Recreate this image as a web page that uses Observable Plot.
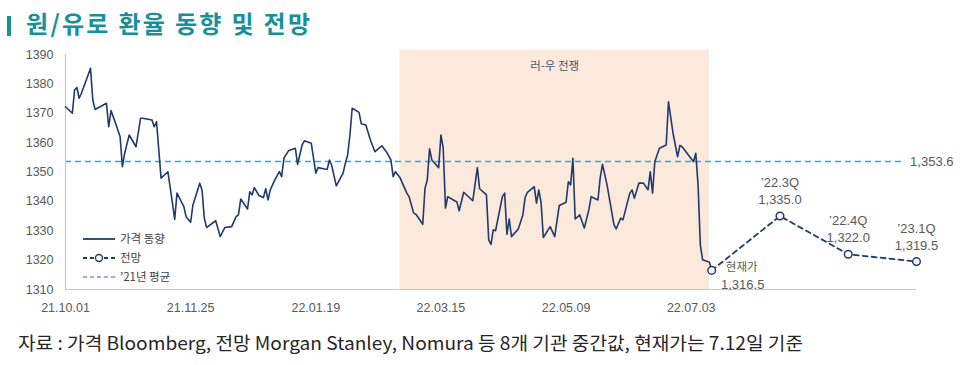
<!DOCTYPE html>
<html><head><meta charset="utf-8">
<script src="https://cdn.jsdelivr.net/npm/d3@7"></script>
<script src="https://cdn.jsdelivr.net/npm/@observablehq/plot@0.6"></script>
<style>
body{margin:0;background:#fff;width:966px;height:365px;overflow:hidden;position:relative;font-family:"Liberation Sans","Noto Sans CJK KR",sans-serif;}
#title{position:absolute;left:7px;top:8px;height:30px;line-height:30px;font-family:"Noto Sans CJK KR",sans-serif;font-weight:700;font-size:24px;letter-spacing:2.3px;color:#16919a;white-space:nowrap;}
#title .bar{display:inline-block;width:4px;height:20px;background:#16919a;vertical-align:-3px;margin-right:15px;}
#chart{position:absolute;left:0;top:40px;}
#overlay{position:absolute;left:0;top:0;pointer-events:none;}
</style></head><body>
<div id="title"><span class="bar"></span>원/유로 환율 동향 및 전망</div>
<div id="chart"></div>
<svg id="overlay" width="966" height="365"></svg>
<script>
// ---- data ----
const priceDates = ["2021-10-01","2021-10-04","2021-10-05","2021-10-06","2021-10-07","2021-10-08","2021-10-12","2021-10-13","2021-10-14","2021-10-19","2021-10-20","2021-10-21","2021-10-23","2021-10-25","2021-10-26","2021-10-27","2021-10-29","2021-11-01","2021-11-03","2021-11-04","2021-11-08","2021-11-09","2021-11-10","2021-11-12","2021-11-15","2021-11-17","2021-11-18","2021-11-19","2021-11-22","2021-11-23","2021-11-25","2021-11-26","2021-11-29","2021-11-30","2021-12-01","2021-12-02","2021-12-06","2021-12-08","2021-12-10","2021-12-13","2021-12-15","2021-12-16","2021-12-17","2021-12-20","2021-12-21","2021-12-22","2021-12-23","2021-12-25","2021-12-27","2021-12-28","2021-12-29","2021-12-30","2022-01-01","2022-01-03","2022-01-04","2022-01-05","2022-01-07","2022-01-10","2022-01-11","2022-01-13","2022-01-14","2022-01-17","2022-01-19","2022-01-20","2022-01-23","2022-01-24","2022-01-25","2022-01-26","2022-01-28","2022-01-31","2022-02-01","2022-02-02","2022-02-03","2022-02-04","2022-02-07","2022-02-08","2022-02-10","2022-02-12","2022-02-14","2022-02-17","2022-02-19","2022-02-21","2022-02-22","2022-02-23","2022-02-25","2022-02-28","2022-03-01","2022-03-03","2022-03-04","2022-03-07","2022-03-08","2022-03-09","2022-03-10","2022-03-11","2022-03-14","2022-03-15","2022-03-16","2022-03-17","2022-03-18","2022-03-21","2022-03-22","2022-03-23","2022-03-25","2022-03-29","2022-03-31","2022-04-01","2022-04-04","2022-04-05","2022-04-06","2022-04-07","2022-04-08","2022-04-11","2022-04-12","2022-04-13","2022-04-14","2022-04-15","2022-04-18","2022-04-20","2022-04-21","2022-04-22","2022-04-25","2022-04-26","2022-04-27","2022-04-28","2022-04-29","2022-05-02","2022-05-04","2022-05-06","2022-05-09","2022-05-10","2022-05-11","2022-05-12","2022-05-13","2022-05-15","2022-05-17","2022-05-19","2022-05-20","2022-05-23","2022-05-24","2022-05-25","2022-05-27","2022-05-30","2022-05-31","2022-06-02","2022-06-03","2022-06-06","2022-06-07","2022-06-08","2022-06-10","2022-06-12","2022-06-14","2022-06-15","2022-06-16","2022-06-17","2022-06-19","2022-06-22","2022-06-23","2022-06-25","2022-06-27","2022-06-28","2022-06-29","2022-07-04","2022-07-05","2022-07-06","2022-07-07","2022-07-08","2022-07-11","2022-07-12"];
const priceValues = [1372.2,1370.0,1377.9,1378.8,1375.1,1376.8,1385.3,1374.5,1371.3,1373.4,1365.4,1370.9,1366.6,1362.0,1351.8,1356.4,1362.6,1358.6,1368.3,1368.3,1367.7,1365.4,1367.1,1347.9,1350.1,1339.4,1333.9,1342.8,1338.2,1334.8,1332.9,1338.8,1346.2,1343.9,1334.3,1331.1,1333.4,1328.0,1331.1,1331.4,1334.8,1335.4,1340.8,1337.4,1343.3,1342.2,1344.7,1342.0,1341.3,1344.3,1340.5,1343.9,1347.3,1350.1,1348.4,1354.7,1357.2,1358.1,1352.6,1359.2,1360.6,1359.8,1349.6,1351.5,1351.0,1350.9,1354.1,1352.2,1345.3,1349.6,1353.0,1355.8,1362.6,1371.7,1370.3,1366.4,1366.0,1360.9,1356.9,1358.9,1356.9,1354.1,1348.4,1350.1,1348.1,1342.8,1341.6,1336.0,1335.6,1332.2,1344.5,1347.3,1357.9,1354.1,1351.5,1362.6,1358.1,1337.7,1341.6,1340.2,1339.9,1336.8,1343.1,1340.2,1351.5,1344.3,1342.2,1326.9,1325.4,1330.3,1330.0,1341.6,1342.8,1328.8,1334.0,1328.0,1330.6,1335.4,1341.3,1343.1,1345.0,1339.4,1343.9,1339.7,1327.7,1331.4,1328.0,1338.6,1339.7,1346.7,1345.6,1354.7,1334.0,1335.4,1330.9,1337.1,1341.6,1340.5,1348.1,1352.6,1345.6,1332.2,1330.6,1334.3,1333.7,1342.8,1343.9,1341.1,1346.2,1346.2,1343.9,1350.1,1342.8,1353.5,1358.1,1359.2,1373.9,1363.2,1355.2,1359.0,1358.6,1353.5,1356.4,1345.6,1325.2,1320.1,1319.3,1316.5];

const forecastDates = ["2022-07-12","2022-08-11","2022-09-10","2022-10-10"];
const forecastValues = [1316.5,1335.0,1322.0,1319.5];
const forecastLabels = ["현재가","’22.3Q","’22.4Q","’23.1Q"];

const avgValue = 1353.6;
const avgSpan = ["2021-10-01","2022-10-05"];

const warSpan = ["2022-02-25","2022-07-11"];
const warLabel = "러-우 전쟁";
const warBand = [1310, 1391.5];

const xDomain = ["2021-10-01","2022-10-10"];
const xTickLabels = ["21.10.01","21.11.25","22.01.19","22.03.15","22.05.09","22.07.03"];
const yTicks = [1310,1320,1330,1340,1350,1360,1370,1380,1390];

const legendLabels = ["가격 동향","전망","’21년 평균"];
const captionText = "자료 : 가격 Bloomberg, 전망 Morgan Stanley, Nomura 등 8개 기관 중간값, 현재가는 7.12일 기준";

// ---- build ----
const parse = d3.utcParse("%Y-%m-%d");
const parseTick = d3.utcParse("%y.%m.%d");
const fmt = d3.format(",.1f");
const price = priceDates.map((d, i) => ({date: parse(d), value: priceValues[i]}));
const fc = forecastDates.map((d, i) => ({date: parse(d), value: forecastValues[i], label: forecastLabels[i], i}));
const fcAhead = fc.filter(d => d.i > 0);
const fcNow = fc.filter(d => d.i === 0);
const avg = [{x1: parse(avgSpan[0]), x2: parse(avgSpan[1]), y: avgValue}];
const war = [{x1: parse(warSpan[0]), x2: parse(warSpan[1]), y1: warBand[0], y2: warBand[1], label: warLabel}];
const xd = xDomain.map(parse);

const NAVY = "#1f3a6e";
const GRAY = "#595959";

const chart = Plot.plot({
  width: 966, height: 280,
  marginLeft: 65, marginRight: 50, marginTop: 14, marginBottom: 31,
  style: {fontFamily: '"Liberation Sans","Noto Sans CJK KR",sans-serif', fontSize: "12.5px", color: GRAY, background: "transparent", overflow: "visible"},
  x: {type: "utc", domain: xd, ticks: xTickLabels.map(parseTick), tickFormat: d3.utcFormat("%y.%m.%d"), tickSize: 0, tickPadding: 14, label: null},
  y: {domain: [1310, 1390], ticks: yTicks, tickFormat: d => String(d), tickSize: 0, tickPadding: 12, label: null},
  marks: [
    Plot.rect(war, {x1: "x1", x2: "x2", y1: "y1", y2: "y2", fill: "#fbe9dc"}),
    Plot.text(war, {x: d => new Date((+d.x1 + +d.x2) / 2), y: "y2", text: "label", dy: 16, fill: "#44546a", fontSize: 11.5, fontFamily: '"Noto Sans CJK KR",sans-serif'}),
    Plot.ruleY(avg, {x1: "x1", x2: "x2", y: "y", stroke: "#29abe2", strokeWidth: 1.5, strokeDasharray: "6,4"}),
    Plot.text(avg, {x: "x2", y: "y", text: d => fmt(d.y), textAnchor: "start", dx: 5, fill: GRAY, fontSize: 13}),
    Plot.ruleY([1310], {x1: xd[0], x2: xd[1], stroke: "#c8c8c8", strokeWidth: 1.2}),
    Plot.ruleX([xd[0]], {y1: 1310, y2: 1390, stroke: "#c8c8c8", strokeWidth: 1.2}),
    Plot.line(price, {x: "date", y: "value", stroke: NAVY, strokeWidth: 1.6}),
    Plot.line(fc, {x: "date", y: "value", stroke: NAVY, strokeWidth: 1.8, strokeDasharray: "5,4"}),
    Plot.dot(fc, {x: "date", y: "value", r: 3.8, fill: "white", stroke: NAVY, strokeWidth: 1.5}),
    Plot.text(fcAhead, {x: "date", y: "value", text: "label", dy: -33, fill: GRAY, fontSize: 13}),
    Plot.text(fcAhead, {x: "date", y: "value", text: d => fmt(d.value), dy: -16, fill: GRAY, fontSize: 13}),
    Plot.text(fcNow, {x: "date", y: "value", text: "label", dx: 30, dy: -3, fill: GRAY, fontSize: 11.5, fontFamily: '"Noto Sans CJK KR",sans-serif'}),
    Plot.text(fcNow, {x: "date", y: "value", text: d => fmt(d.value), dx: 31, dy: 14, fill: GRAY, fontSize: 13})
  ]
});
document.getElementById("chart").appendChild(chart);

// ---- legend & caption overlay ----
const ov = d3.select("#overlay");
const rows = [239, 258, 277];
const lg = ov.append("g").attr("font-family", '"Noto Sans CJK KR",sans-serif').attr("font-size", 11.5).attr("fill", "#404040");
lg.append("line").attr("x1", 83).attr("x2", 115).attr("y1", rows[0]).attr("y2", rows[0]).attr("stroke", NAVY).attr("stroke-width", 1.8);
lg.append("line").attr("x1", 83).attr("x2", 115).attr("y1", rows[1]).attr("y2", rows[1]).attr("stroke", NAVY).attr("stroke-width", 1.8).attr("stroke-dasharray", "4,3");
lg.append("circle").attr("cx", 99).attr("cy", rows[1]).attr("r", 3.5).attr("fill", "white").attr("stroke", NAVY).attr("stroke-width", 1.4);
lg.append("line").attr("x1", 83).attr("x2", 115).attr("y1", rows[2]).attr("y2", rows[2]).attr("stroke", "#7f90f0").attr("stroke-width", 1.6).attr("stroke-dasharray", "4,3");
legendLabels.forEach((t, i) => {
  lg.append("text").attr("x", 120).attr("y", rows[i]).attr("dy", "0.35em").text(t);
});
ov.append("text").attr("x", 18).attr("y", 344).attr("dy", "0.35em")
  .attr("font-family", '"Noto Sans CJK KR",sans-serif').attr("font-size", 18).attr("fill", "#262626")
  .attr("textLength", 785).attr("lengthAdjust", "spacingAndGlyphs").text(captionText);
</script>
</body></html>
